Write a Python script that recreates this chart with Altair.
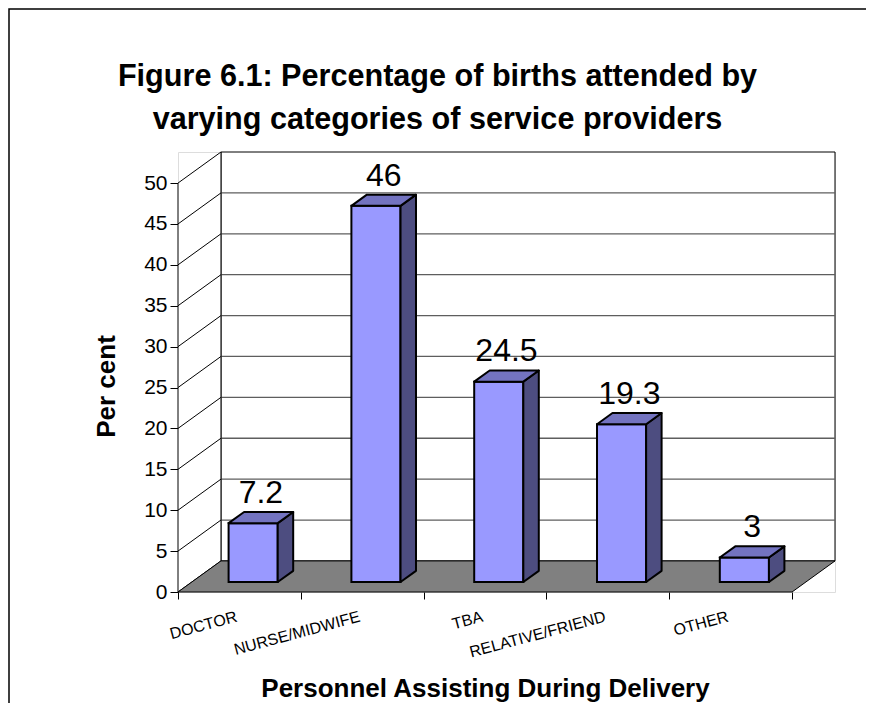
import altair as alt
import pandas as pd

# ---------------- data ----------------
categories = ["DOCTOR", "NURSE/MIDWIFE", "TBA", "RELATIVE/FRIEND", "OTHER"]
values = [7.2, 46, 24.5, 19.3, 3]
y_ticks = [0, 5, 10, 15, 20, 25, 30, 35, 40, 45, 50]

title_lines = ["Figure 6.1: Percentage of births attended by",
               "varying categories of service providers"]
x_title = "Personnel Assisting During Delivery"
y_title = "Per cent"

# ---------------- 3-D geometry (data units) ----------------
N = len(categories)
YMAX = y_ticks[-1]
DX = 0.35      # depth shift along x (category units)
DY = 3.8       # depth shift along y (value units)
F0, F1 = 0.32, 0.68   # bar front / back depth fraction
HW = 0.2       # bar half width

X_DOM = [0, N + DX]
Y_DOM = [0, YMAX + DY]
W, H = 657, 440
FONT = "Liberation Sans"

FRONT = "#9999FF"
TOP = "#7373C0"
SIDE = "#4D4D80"
FLOOR = "#808080"


def X(field, axis=alt.Undefined):
    return alt.X(field, type="quantitative", scale=alt.Scale(domain=X_DOM, nice=False, zero=False),
                 axis=axis)


def Y(field, axis=alt.Undefined):
    return alt.Y(field, type="quantitative", scale=alt.Scale(domain=Y_DOM, nice=False, zero=False),
                 axis=axis, stack=False)


# walls / floor
back_wall = pd.DataFrame([dict(x=DX, x2=N + DX, y=DY, y2=YMAX + DY)])
floor = pd.DataFrame([dict(y=0, x=0, x2=N), dict(y=DY, x=DX, x2=N + DX)])
left_wall = pd.DataFrame([dict(x=0, y=0, y2=YMAX), dict(x=DX, y=DY, y2=YMAX + DY)])
back_grid = pd.DataFrame([dict(x=DX, x2=N + DX, y=t + DY) for t in y_ticks[1:-1]])
side_grid = pd.DataFrame([dict(x=0, y=t, x2=DX, y2=t + DY) for t in y_ticks[1:-1]])

# bars
front_rows, side_rows, top_rows, label_rows = [], [], [], []
for i, (c, v) in enumerate(zip(categories, values)):
    cx = i + 0.5
    front_rows.append(dict(cat=c, x=cx - HW + F0 * DX, x2=cx + HW + F0 * DX, y=F0 * DY, y2=v + F0 * DY))
    side_rows.append(dict(cat=c, x=cx + HW + F0 * DX, y=F0 * DY, y2=v + F0 * DY))
    side_rows.append(dict(cat=c, x=cx + HW + F1 * DX, y=F1 * DY, y2=v + F1 * DY))
    top_rows.append(dict(cat=c, y=v + F0 * DY, x=cx - HW + F0 * DX, x2=cx + HW + F0 * DX))
    top_rows.append(dict(cat=c, y=v + F1 * DY, x=cx - HW + F1 * DX, x2=cx + HW + F1 * DX))
    label_rows.append(dict(cat=c, x=cx + 0.5 * (F0 + F1) * DX, y=v + F1 * DY, label=f"{v:g}"))
front_df = pd.DataFrame(front_rows)
side_df = pd.DataFrame(side_rows)
top_df = pd.DataFrame(top_rows)
label_df = pd.DataFrame(label_rows)

cat_expr = "[" + ",".join("'" + c + "'" for c in categories) + "]"
x_axis = alt.Axis(
    values=[k * 0.5 for k in range(2 * N + 1)],
    labelExpr=f"(datum.value % 1) == 0.5 ? {cat_expr}[floor(datum.value)] : ''",
    tickOpacity={"condition": {"test": "(datum.value % 1) != 0", "value": 0}, "value": 1},
    domain=False, grid=False, tickSize=7, tickColor="black", tickWidth=1,
    labelFont=FONT, labelFontSize=16, labelColor="black", labelAngle=-15,
    labelAlign="right", labelBaseline="middle", labelPadding=17, labelOffset=-3, labelOverlap=False,
    title=x_title, titleFont=FONT, titleFontSize=26, titleFontWeight="bold", titleColor="black",
    titleX=307, titleY=96, titleAlign="center", titleBaseline="middle",
)
y_axis = alt.Axis(
    values=y_ticks, domain=False, grid=False, tickSize=8, tickColor="black", tickWidth=1,
    labelFont=FONT, labelFontSize=21, labelColor="black", labelPadding=3,
    title=y_title, titleFont=FONT, titleFontSize=26, titleFontWeight="bold", titleColor="black",
    titleX=-72, titleY=234, titleAlign="center", titleBaseline="middle", titleAngle=270,
)

wall = alt.Chart(back_wall).mark_rect(fill="white", stroke="black", strokeWidth=1).encode(
    x=X("x", x_axis), x2="x2", y=Y("y", y_axis), y2="y2")
grid = alt.Chart(back_grid).mark_rule(color="#5e5e5e", strokeWidth=1.3).encode(
    x=X("x"), x2="x2", y=Y("y"))
lwall = alt.Chart(left_wall).mark_area(fill="white", stroke="black", strokeWidth=1).encode(
    x=X("x"), y=Y("y"), y2="y2")
sgrid = alt.Chart(side_grid).mark_rule(color="black", strokeWidth=1).encode(
    x=X("x"), x2="x2", y=Y("y"), y2="y2")
flr = alt.Chart(floor).mark_area(orient="horizontal", fill=FLOOR, stroke="black", strokeWidth=1).encode(
    y=Y("y"), x=X("x"), x2="x2")

bar_front = alt.Chart(front_df).mark_rect(fill=FRONT, stroke="black", strokeWidth=2).encode(
    x=X("x"), x2="x2", y=Y("y"), y2="y2")
bar_side = alt.Chart(side_df).mark_area(fill=SIDE, stroke="black", strokeWidth=2, strokeJoin="round").encode(
    x=X("x"), y=Y("y"), y2="y2", detail="cat:N")
bar_top = alt.Chart(top_df).mark_area(orient="horizontal", fill=TOP, stroke="black", strokeWidth=2,
                                      strokeJoin="round").encode(
    y=Y("y"), x=X("x"), x2="x2", detail="cat:N")
labels = alt.Chart(label_df).mark_text(font=FONT, fontSize=32, color="black", baseline="alphabetic",
                                       align="center", dy=-9).encode(
    x=X("x"), y=Y("y"), text="label:N")

# outer frame of the picture (only its top and left edges fall inside the page)
frame_df = pd.DataFrame([dict(k=0)])
frame = alt.Chart(frame_df).mark_rect(fill="transparent", stroke="black", strokeWidth=1.5).encode(
    x=alt.value(-169), x2=alt.value(720), y=alt.value(-143), y2=alt.value(620))

chart = alt.layer(
    wall, grid, lwall, sgrid, flr, bar_front, bar_side, bar_top, labels, frame
).properties(
    width=W, height=H,
    autosize="none",
    padding={"left": 170, "top": 144, "right": 31, "bottom": 111},
    title=alt.TitleParams(text=title_lines, font=FONT, fontSize=30.6, fontWeight="bold", color="black",
                          anchor="middle", frame="group", dx=-69, offset=-127, lineHeight=43),
).configure_view(stroke=None).configure(background="white")

chart.save("out.html", embed_options={"renderer": "svg", "actions": False})
